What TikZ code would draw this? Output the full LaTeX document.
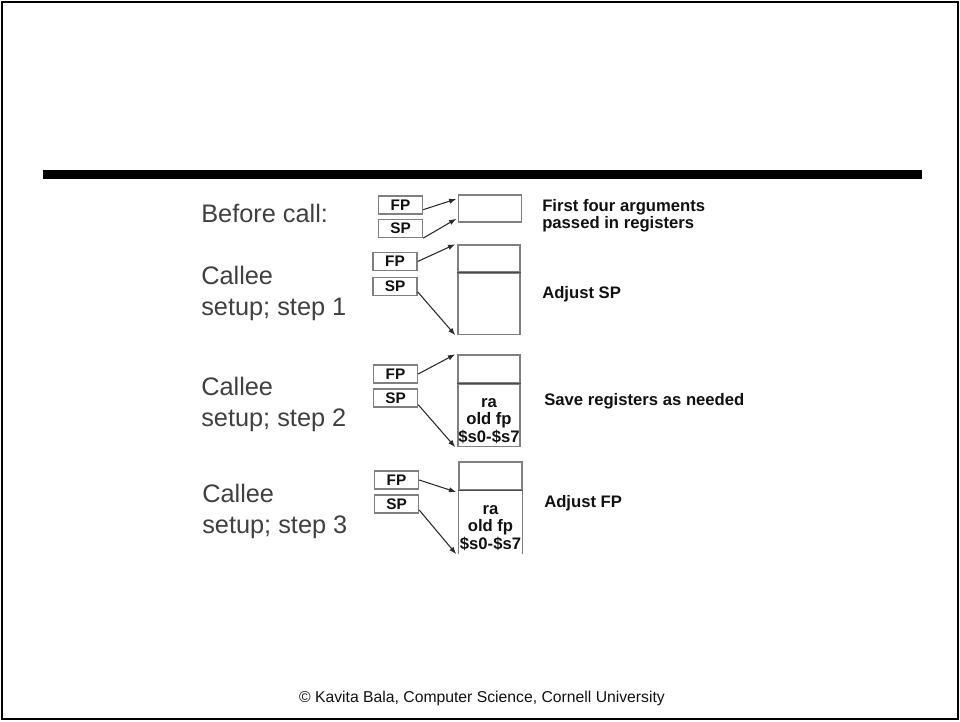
\documentclass[tikz,border=0pt]{standalone}
\usepackage{fontspec}
\setmainfont{Liberation Sans}
\usepackage{tikz}
\usetikzlibrary{arrows.meta}
\definecolor{ink}{HTML}{111111}
\definecolor{subink}{HTML}{404040}
\definecolor{boxline}{HTML}{808080}
\definecolor{divline}{HTML}{4A4A4A}
\definecolor{ptrink}{HTML}{2A2A2A}
\tikzset{
  >={Latex[length=5.5pt,width=4pt]},
  regbox/.style={draw=boxline, line width=1pt, inner sep=0pt,
    minimum width=33pt, minimum height=13.5pt, text=ink,
    font=\fontsize{11.5}{12}\selectfont\bfseries},
  cell/.style={draw=boxline, line width=1.1pt, inner sep=0pt, align=center,
    text=ink, minimum width=46.5pt,
    font=\fontsize{12.5}{13.1}\selectfont\bfseries},
  opencell/.style={cell, draw=none},
  divider/.style={draw=divline, line width=1.1pt},
  steplabel/.style={anchor=north west, inner sep=0pt, align=left,
    text=subink, font=\fontsize{19}{22.8}\selectfont},
  note/.style={anchor=north west, inner sep=0pt, align=left, text=ink,
    font=\fontsize{12.5}{11.25}\selectfont\bfseries},
  ptr/.style={->, line width=0.8pt, draw=ptrink}
}
\newcommand{\savedregs}{\rule{0pt}{15pt}ra\\old fp\\\$s0-\$s7}

\begin{document}
\begin{tikzpicture}[x=0.75pt,y=-0.75pt]
  \useasboundingbox (0,0) rectangle (960,721);
  % slide frame and title rule
  \draw[line width=1.6pt] (2,2) rectangle (958,719);
  \fill (43,170) rectangle (922,179);

  % before call
  \node[steplabel] (lbl0) at (201,204) {Before call:};
  \node[regbox] (fp0) at (400.5,205) {FP};
  \node[regbox] (sp0) at (400.5,228.5) {SP};
  \node[cell, minimum width=47.25pt, minimum height=20.25pt] (s0) at (490,208.5) {};
  \node[note] (n0) at (542,199) {First four arguments\\passed in registers};
  \draw[ptr] ([yshift=-3.5pt]fp0.east) -- ([xshift=-1pt,yshift=-3.5pt]s0.north west);
  \draw[ptr] (sp0.south east) -- ([xshift=-1pt,yshift=3pt]s0.south west);

  % step 1
  \node[steplabel] (lbl1) at (201,266) {Callee\\setup; step 1};
  \node[regbox] (fp1) at (395,261.5) {FP};
  \node[regbox] (sp1) at (395,286.5) {SP};
  \node[cell, minimum height=20.25pt] (t1) at (489,258.5) {};
  \node[cell, minimum height=45.75pt, anchor=north] (b1) at (t1.south) {};
  \draw[divider] (t1.south west) -- (t1.south east);
  \node[note] (n1) at (542,286) {Adjust SP};
  \draw[ptr] (fp1.east) -- ([xshift=-1.5pt]t1.north west);
  \draw[ptr] ([yshift=-4pt]sp1.east) -- ([xshift=-1.5pt]b1.south west);

  % step 2
  \node[steplabel] (lbl2) at (201,377) {Callee\\setup; step 2};
  \node[regbox] (fp2) at (395.5,374) {FP};
  \node[regbox] (sp2) at (395.5,398) {SP};
  \node[cell, minimum height=21pt] (t2) at (489,369) {};
  \node[cell, minimum height=46.5pt, anchor=north] (b2) at (t2.south) {\savedregs};
  \draw[divider] (t2.south west) -- (t2.south east);
  \node[note] (n2) at (544,393) {Save registers as needed};
  \draw[ptr] (fp2.east) -- ([xshift=-1.5pt]t2.north west);
  \draw[ptr] ([yshift=-5pt]sp2.east) -- ([xshift=-1.5pt]b2.south west);

  % step 3
  \node[steplabel] (lbl3) at (202,484) {Callee\\setup; step 3};
  \node[regbox] (fp3) at (396.5,480) {FP};
  \node[regbox] (sp3) at (396.5,504) {SP};
  \node[cell, minimum width=47.25pt, minimum height=21pt] (t3) at (490.5,476) {};
  \node[opencell, minimum width=47.25pt, minimum height=46.5pt, anchor=north] (b3)
     at (t3.south) {\savedregs};
  \draw[boxline, line width=1.1pt] (b3.south west) -- (b3.north west)
     (b3.north east) -- (b3.south east);
  \draw[divider] (t3.south west) -- (t3.south east);
  \node[note] (n3) at (544,495) {Adjust FP};
  \draw[ptr] (fp3.east) -- ([xshift=-1.5pt,yshift=-1pt]b3.north west);
  \draw[ptr] ([yshift=-4.5pt]sp3.east) -- ([xshift=-1.5pt]b3.south west);

  % footer
  \node[anchor=base, inner sep=0pt, text=ink, font=\fontsize{11.8}{13}\selectfont]
     (foot) at (482,702) {\textcopyright{} Kavita Bala, Computer Science, Cornell University};
\end{tikzpicture}
\end{document}
